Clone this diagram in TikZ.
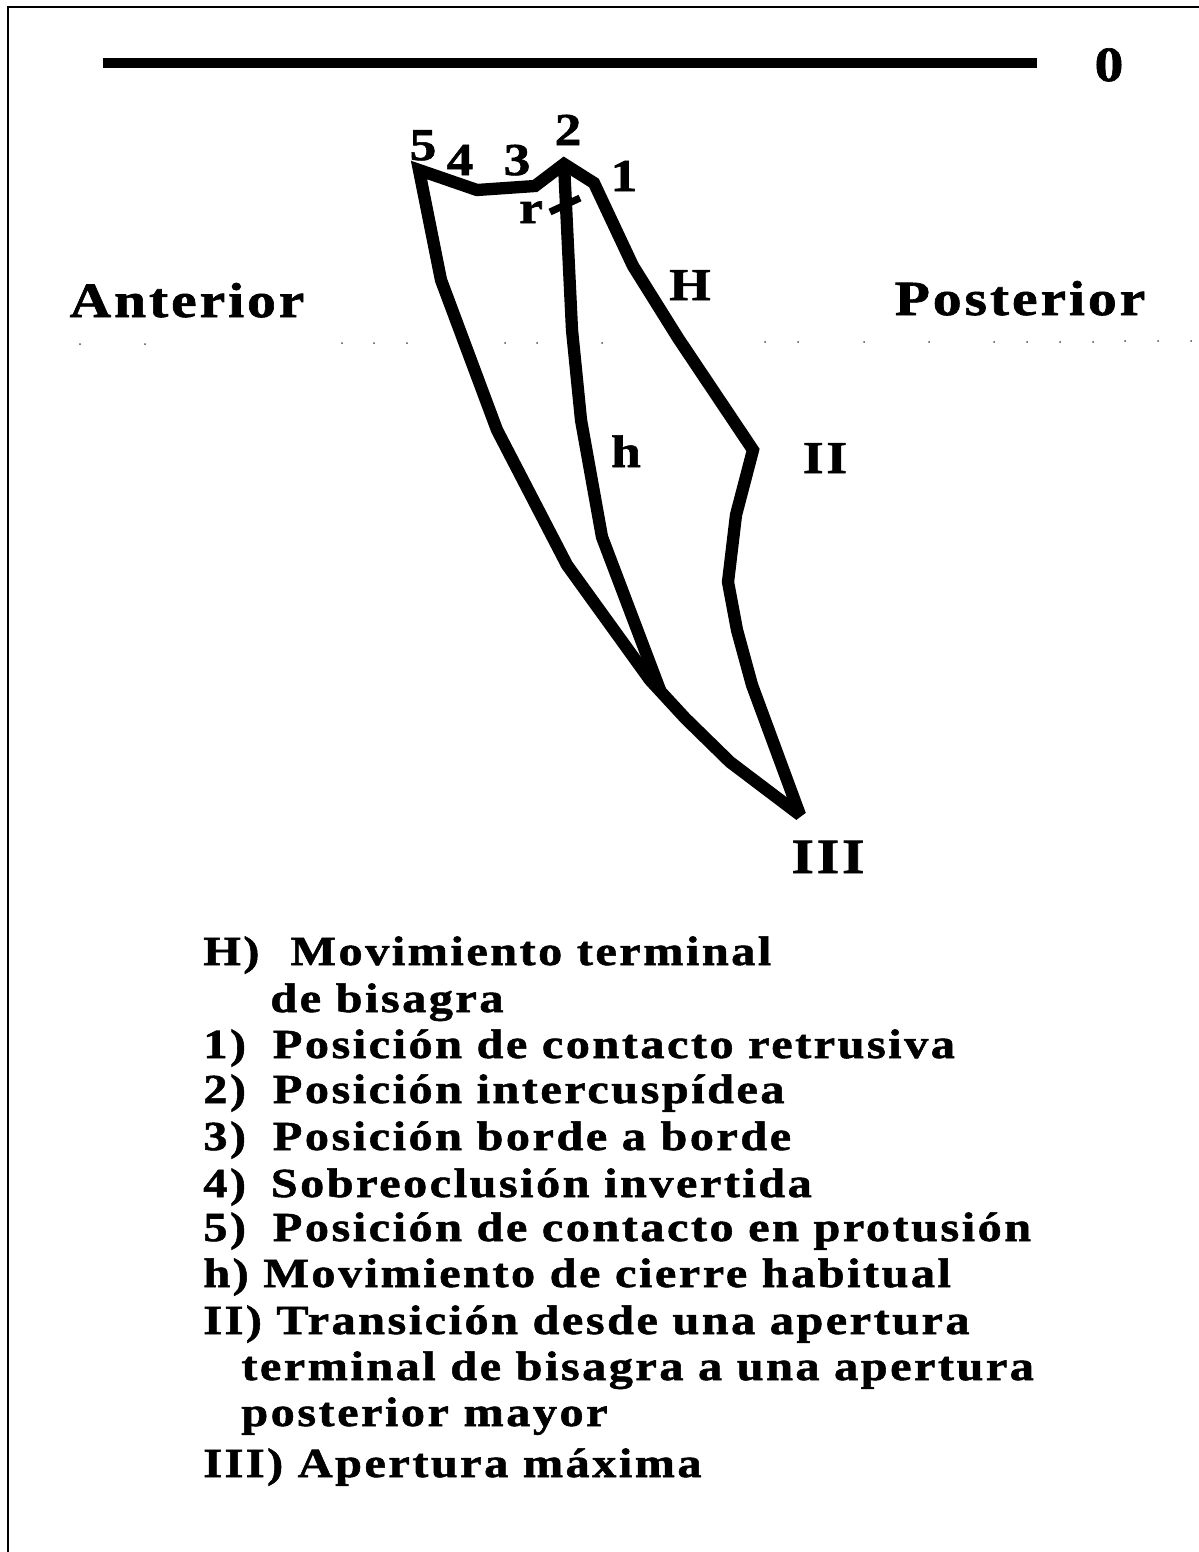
\documentclass[tikz,border=0pt]{standalone}
\usepackage{fontspec}
\setmainfont[LetterSpace=6,FakeStretch=1.17,BoldFeatures={FakeBold=1.3}]{Liberation Serif}
\usepackage{tikz}
\usetikzlibrary{calc}
\tikzset{
  trace/.style={line width=7pt, line join=miter, miter limit=3},
  bigtext/.style={anchor=base, font=\fontsize{28}{32}\selectfont\bfseries, inner sep=0pt},
  marktext/.style={anchor=base, font=\fontsize{26}{30}\selectfont\bfseries, inner sep=0pt},
  listtext/.style={anchor=base west, font=\fontsize{23.5}{27}\selectfont\bfseries, inner sep=0pt}
}
\begin{document}
\begin{tikzpicture}[x=0.02cm, y=-0.02cm]
\useasboundingbox (0,0) rectangle (1199,1552);
% frame and top bar
\draw[line width=1pt] (8,1552) -- (8,7) -- (1199,7);
\fill (103,58) rectangle (1037,68);
\node (zero) at (1109,81) [bigtext] {0};
% faint dots across the sheet
\fill[black!70] (80,344) circle (1) (145,344) circle (1) (342,343) circle (1) (374,343) circle (1) (407,343) circle (1) (505,343) circle (1) (537,343) circle (1) (602,343) circle (1) (765,342) circle (1) (798,342) circle (1);
\fill[black!70] (864,342) circle (1) (929,342) circle (1) (994,342) circle (1) (1027,342) circle (1) (1060,342) circle (1) (1093,342) circle (1) (1125,341) circle (1) (1158,341) circle (1) (1191,341) circle (1);
% points of the envelope
\coordinate (p5) at (419,170);
\coordinate (p4) at (477,190);
\coordinate (p3) at (535,186);
\coordinate (p2) at (564,164);
\coordinate (p1) at (594,183);
\coordinate (a1) at (633,266);
\coordinate (a2) at (678,338);
\coordinate (pII) at (753,450);
\coordinate (a3) at (736,515);
\coordinate (a4) at (728,582);
\coordinate (a5) at (737,630);
\coordinate (a6) at (752,685);
\coordinate (pIII) at (800,815);
\coordinate (b1) at (730,762);
\coordinate (b2) at (685,718);
\coordinate (b3) at (650,680);
\coordinate (b4) at (567,565);
\coordinate (b5) at (497,430);
\coordinate (b6) at (441,280);
\coordinate (h1) at (572,330);
\coordinate (h2) at (581,420);
\coordinate (h3) at (602,537);
\coordinate (h4) at (660,690);
\coordinate (r1) at (550,212);
\coordinate (r2) at (580,198);
\draw[trace] (p5) -- (p4) -- (p3) -- (p2) -- (p1) -- (a1) -- (a2) -- (pII) -- (a3) -- (a4) -- (a5) -- (a6) -- (pIII) -- (b1) -- (b2) -- (b3) -- (b4) -- (b5) -- (b6) -- cycle;
\draw[trace] (p2) -- (h1) -- (h2) -- (h3) -- (h4);
\draw[line width=4pt] (r1) -- (r2);
% labels on the envelope
\node (n5) at (423,160) [marktext] {5};
\node (n4) at (460,175) [marktext] {4};
\node (n3) at (517,175) [marktext] {3};
\node (n2) at (568,145) [marktext] {2};
\node (n1) at (624,191) [marktext] {1};
\node (nr) at (531,223) [marktext] {r};
\node (nH) at (690,300) [marktext] {H};
\node (nh) at (626,467) [marktext] {h};
\node (nII) at (825,473) [marktext] {II};
\node (nIII) at (828,873) [bigtext] {III};
\node (anterior) at (187,317) [bigtext] {Anterior};
\node (posterior) at (1020,315) [bigtext] {Posterior};
% legend
\node (h) at (203,965) [listtext] {H)\hspace{0.75em}Movimiento terminal};
\node (hb) at (270,1012) [listtext] {de bisagra};
\node (one) at (203,1058) [listtext] {1)\hspace{0.65em}Posición de contacto retrusiva};
\node (two) at (203,1103) [listtext] {2)\hspace{0.65em}Posición intercuspídea};
\node (three) at (203,1150) [listtext] {3)\hspace{0.65em}Posición borde a borde};
\node (four) at (203,1197) [listtext] {4)\hspace{0.6em}Sobreoclusión invertida};
\node (five) at (203,1241) [listtext] {5)\hspace{0.65em}Posición de contacto en protusión};
\node (hab) at (203,1287) [listtext] {h) Movimiento de cierre habitual};
\node (two2) at (203,1334) [listtext] {II) Transición desde una apertura};
\node (two2b) at (241,1380) [listtext] {terminal de bisagra a una apertura};
\node (two2c) at (241,1426) [listtext] {posterior mayor};
\node (three3) at (203,1477) [listtext] {III) Apertura máxima};
\end{tikzpicture}
\end{document}
